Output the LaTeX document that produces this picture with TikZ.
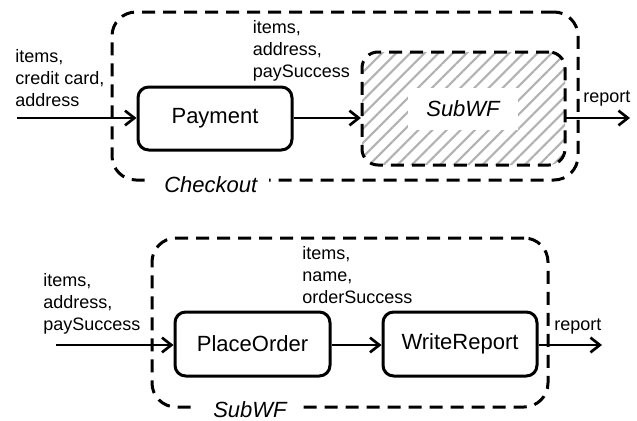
\documentclass[tikz,border=0pt]{standalone}
\usepackage{fontspec}
\setmainfont{Liberation Sans}
\usetikzlibrary{arrows.meta,patterns.meta}
\tikzset{
  task/.style={draw,line width=2.25pt,rounded corners=8pt,inner sep=0pt,
    font=\fontsize{16.5}{19}\selectfont},
  wfbox/.style={draw,line width=2.25pt,dash pattern=on 9.75pt off 6pt,rounded corners=18pt,inner sep=0pt},
  flow/.style={line width=1.5pt,-{Straight Barb[length=7pt,width=11pt,line width=2pt]}},
  lbl/.style={anchor=base west,align=left,inner sep=0pt,font=\fontsize{13.5}{16.5}\selectfont},
  wflbl/.style={anchor=base west,fill=white,inner xsep=9pt,inner ysep=2pt,font=\fontsize{16.5}{19}\selectfont\itshape},
}
\begin{document}
\begin{tikzpicture}[x=0.75pt,y=-0.75pt]
\useasboundingbox (0,0) rectangle (637,421);
% ---- top: Checkout
\node[wfbox,minimum width=466*0.75pt,minimum height=168*0.75pt] (checkout) at (345,96) {};
\node[wflbl] (checkoutlbl) at (152,192) {Checkout};
\node[task,minimum width=154*0.75pt,minimum height=63*0.75pt] (payment) at (215,118.5) {Payment};
\node[wfbox,rounded corners=12pt,pattern={Lines[angle=45,distance=7.5pt,line width=1.6pt]},pattern color=black!30,
  minimum width=203*0.75pt,minimum height=113*0.75pt] (sub) at (463.5,108.5) {};
\node[fill=white,inner sep=0pt,minimum width=110*0.75pt,minimum height=42*0.75pt,
  font=\fontsize{16.5}{19}\selectfont\itshape] (subin) at (463,109) {SubWF};
\coordinate (in1) at (17,118);
\coordinate (out1) at (630,118);
\draw[flow] (in1) -- (in1 -| payment.west);
\draw[flow] (payment.east |- in1) -- (in1 -| sub.west);
\draw[flow] (in1 -| sub.east) -- (out1);
\node[lbl] (l1) at (15,106) {items,\\credit card,\\address};
\node[lbl] (l2) at (252.5,77) {items,\\address,\\paySuccess};
\node[lbl] (l3) at (583,103) {report};
% ---- bottom: SubWF
\node[wfbox,minimum width=396*0.75pt,minimum height=169*0.75pt] (subwf) at (350,322.5) {};
\node[wflbl,inner xsep=12pt] (subwflbl) at (197,417) {SubWF};
\node[task,minimum width=155*0.75pt,minimum height=64*0.75pt] (place) at (252.5,344) {PlaceOrder};
\node[task,minimum width=154*0.75pt,minimum height=64*0.75pt] (write) at (460,344) {WriteReport};
\coordinate (in2) at (56,345);
\coordinate (out2) at (602,345);
\draw[flow] (in2) -- (in2 -| place.west);
\draw[flow] (place.east |- in2) -- (in2 -| write.west);
\draw[flow] (in2 -| write.east) -- (out2);
\node[lbl] (l4) at (43,330) {items,\\address,\\paySuccess};
\node[lbl] (l5) at (302,303) {items,\\name,\\orderSuccess};
\node[lbl] (l6) at (554,330) {report};
\end{tikzpicture}
\end{document}
